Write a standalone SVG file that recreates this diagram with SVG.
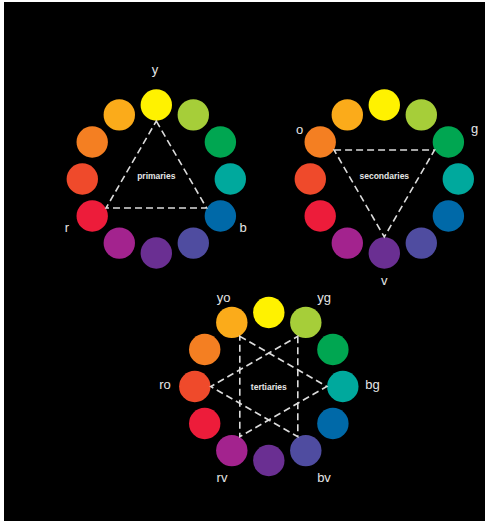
<svg xmlns="http://www.w3.org/2000/svg" width="488" height="521" viewBox="0 0 488 521">
<style>
.c{stroke:none}
.y{fill:#fff200}.yg{fill:#a6ce39}.g{fill:#00a651}.bg{fill:#00a99d}.b{fill:#0069a8}.bv{fill:#4f4ca0}
.v{fill:#6a2f92}.rv{fill:#a3238e}.r{fill:#ed1c3a}.ro{fill:#ef4a2b}.o{fill:#f47f22}.yo{fill:#fbab1a}
.lbl{font-family:"Liberation Sans",Arial,sans-serif;font-size:13px;fill:#e6e6e6;text-anchor:middle}
.ttl{font-family:"Liberation Sans",Arial,sans-serif;font-size:8.5px;font-weight:bold;fill:#e6e6e6;text-anchor:middle}
.dash{fill:none;stroke:#dcdcdc;stroke-width:1.6;stroke-dasharray:7 4;stroke-linejoin:miter}
</style>
<defs>
<g id="wheel">
<circle class="c y" cx="0" cy="-74" r="15.7"/>
<circle class="c yg" cx="37" cy="-64.09" r="15.7"/>
<circle class="c g" cx="64.09" cy="-37" r="15.7"/>
<circle class="c bg" cx="74" cy="0" r="15.7"/>
<circle class="c b" cx="64.09" cy="37" r="15.7"/>
<circle class="c bv" cx="37" cy="64.09" r="15.7"/>
<circle class="c v" cx="0" cy="74" r="15.7"/>
<circle class="c rv" cx="-37" cy="64.09" r="15.7"/>
<circle class="c r" cx="-64.09" cy="37" r="15.7"/>
<circle class="c ro" cx="-74" cy="0" r="15.7"/>
<circle class="c o" cx="-64.09" cy="-37" r="15.7"/>
<circle class="c yo" cx="-37" cy="-64.09" r="15.7"/>
</g>
</defs>
<rect x="0" y="0" width="488" height="521" fill="#ffffff"/>
<rect x="4" y="2" width="481" height="519" fill="#000000"/>

<g id="wheel-primaries" transform="translate(156.3,179)">
<use href="#wheel"/>
<text class="ttl" x="0" y="-0.5">primaries</text>
</g>
<g id="wheel-secondaries" transform="translate(384.3,179)">
<use href="#wheel"/>
<text class="ttl" x="0" y="-0.5">secondaries</text>
</g>
<g id="wheel-tertiaries" transform="translate(268.8,386.5)">
<use href="#wheel"/>
<text class="ttl" x="0" y="3.5">tertiaries</text>
</g>

<g id="connectors">
<polygon class="dash" points="156.3,121 206.53,208 106.07,208"/>
<polygon class="dash" points="334.07,150 434.53,150 384.3,237"/>
<polygon class="dash" points="239.8,336.27 326.8,386.5 239.8,436.73"/>
<polygon class="dash" points="297.8,336.27 297.8,436.73 210.8,386.5"/>
</g>

<g id="labels">
<text class="lbl" x="155" y="74">y</text>
<text class="lbl" x="67" y="232">r</text>
<text class="lbl" x="243" y="232">b</text>
<text class="lbl" x="299.5" y="133.5">o</text>
<text class="lbl" x="474.5" y="133">g</text>
<text class="lbl" x="384.3" y="285">v</text>
<text class="lbl" x="223.5" y="301.5">yo</text>
<text class="lbl" x="324" y="301.5">yg</text>
<text class="lbl" x="165" y="389.3">ro</text>
<text class="lbl" x="372.5" y="389.3">bg</text>
<text class="lbl" x="222" y="481.5">rv</text>
<text class="lbl" x="324" y="481.5">bv</text>
</g>
</svg>
